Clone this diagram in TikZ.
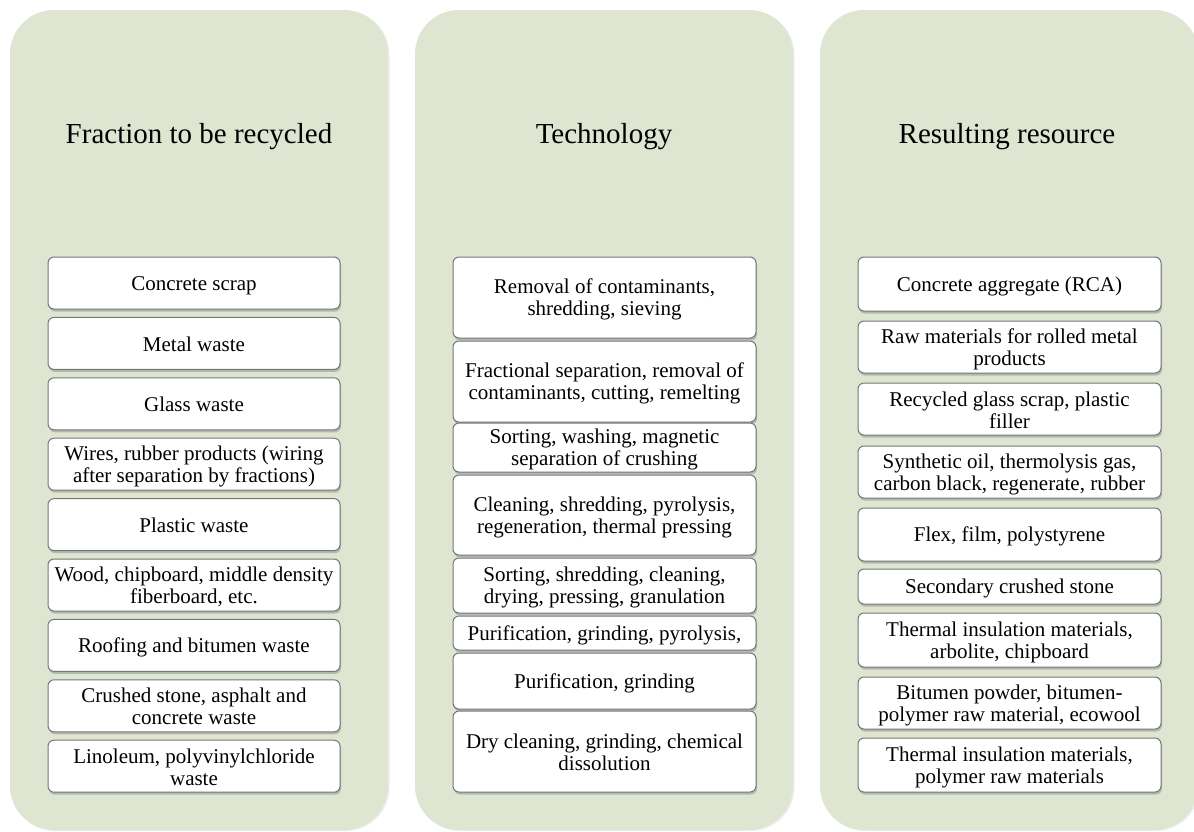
\documentclass[tikz,border=0pt]{standalone}
\usepackage{fontspec}
\setmainfont{Liberation Serif}
\usetikzlibrary{shadows,positioning}
\definecolor{panelgreen}{HTML}{DEE6D2}
\definecolor{cellline}{HTML}{767676}
\newcommand{\topline}{\vrule height 19pt depth 0pt width 0pt\relax}
\newcommand{\botline}{\vrule height 0pt depth 3pt width 0pt\relax}
\setlength{\lineskiplimit}{-100pt}

\begin{document}
\begin{tikzpicture} [x=1pt,y=-1pt,{panel/.style={rectangle,rounded corners=44pt,fill=panelgreen,inner sep=0pt,minimum width=378pt,minimum height=820pt,drop shadow={shadow xshift=1.5pt,shadow yshift=-1pt,opacity=0.15}}},{head/.style={font=\fontsize{29}{31}\selectfont,inner sep=0pt,anchor=base}},{cell/.style={rectangle,rounded corners=6pt,draw=cellline,fill=white,line width=1pt,inner sep=0pt,align=flush center,font=\fontsize{21}{22}\selectfont,execute at begin node=\topline,execute at end node=\botline,drop shadow={shadow xshift=1pt,shadow yshift=-2.5pt,opacity=0.45}}},{cellA/.style={cell,minimum width=292pt,text width=292pt}},{cellB/.style={cell,minimum width=303pt,text width=303pt}}]
		\useasboundingbox (0,0) rectangle (1194,831);
		%%panels
		\node at (199,420) [panel] (p1) {};
		\node at (604,420) [panel] (p2) {};
		\node at (1009,420) [panel] (p3) {};
		%%headers
		\node at (199,143) [head] (h1) {Fraction to be recycled};
		\node at (604,143) [head] (h2) {Technology};
		\node at (1007,143) [head] (h3) {Resulting resource};

		%%fractions
		\node at (194,283) [cellA,minimum height=52pt] (f1) {Concrete scrap};
		\node at (194,343.4) [cellA,minimum height=52pt] (f2) {Metal waste};
		\node at (194,403.8) [cellA,minimum height=52pt] (f3) {Glass waste};
		\node at (194,464.2) [cellA,minimum height=52pt] (f4) {Wires, rubber products (wiring\\after separation by fractions)};
		\node at (194,524.6) [cellA,minimum height=52pt] (f5) {Plastic waste};
		\node at (194,585) [cellA,minimum height=52pt] (f6) {Wood, chipboard, middle density\\fiberboard, etc.};
		\node at (194,645.4) [cellA,minimum height=52pt] (f7) {Roofing and bitumen waste};
		\node at (194,705.8) [cellA,minimum height=52pt] (f8) {Crushed stone, asphalt and\\concrete waste};
		\node at (194,766.2) [cellA,minimum height=52pt] (f9) {Linoleum, polyvinylchloride\\waste};

		%%technologies
		\node at (604.5,297.5) [cellB,minimum height=81pt] (t1) {Removal of contaminants,\\shredding, sieving};
		\node at (604.5,381.5) [cellB,minimum height=81pt] (t2) {Fractional separation, removal of\\contaminants, cutting, remelting};
		\node at (604.5,447.5) [cellB,minimum height=49pt] (t3) {Sorting, washing, magnetic\\separation of crushing};
		\node at (604.5,515) [cellB,minimum height=80pt] (t4) {Cleaning, shredding, pyrolysis,\\regeneration, thermal pressing};
		\node at (604.5,585.5) [cellB,minimum height=55pt] (t5) {Sorting, shredding, cleaning,\\drying, pressing, granulation};
		\node at (604.5,633) [cellB,minimum height=34pt] (t6) {Purification, grinding, pyrolysis,};
		\node at (604.5,681) [cellB,minimum height=56pt] (t7) {Purification, grinding};
		\node at (604.5,751.5) [cellB,minimum height=81pt] (t8) {Dry cleaning, grinding, chemical\\dissolution};

		%%resources
		\node at (1009.5,284) [cellB,minimum height=54pt] (r1) {Concrete aggregate (RCA)};
		\node at (1009.5,347) [cellB,minimum height=52pt] (r2) {Raw materials for rolled metal\\products};
		\node at (1009.5,409) [cellB,minimum height=52pt] (r3) {Recycled glass scrap, plastic\\filler};
		\node at (1009.5,472) [cellB,minimum height=52pt] (r4) {Synthetic oil, thermolysis gas,\\carbon black, regenerate, rubber};
		\node at (1009.5,534.5) [cellB,minimum height=53pt] (r5) {Flex, film, polystyrene};
		\node at (1009.5,586.5) [cellB,minimum height=35pt] (r6) {Secondary crushed stone};
		\node at (1009.5,640) [cellB,minimum height=54pt] (r7) {Thermal insulation materials,\\arbolite, chipboard};
		\node at (1009.5,703) [cellB,minimum height=52pt] (r8) {Bitumen powder, bitumen-\\polymer raw material, ecowool};
		\node at (1009.5,765) [cellB,minimum height=54pt] (r9) {Thermal insulation materials,\\polymer raw materials};
	\end{tikzpicture}
\end{document}
